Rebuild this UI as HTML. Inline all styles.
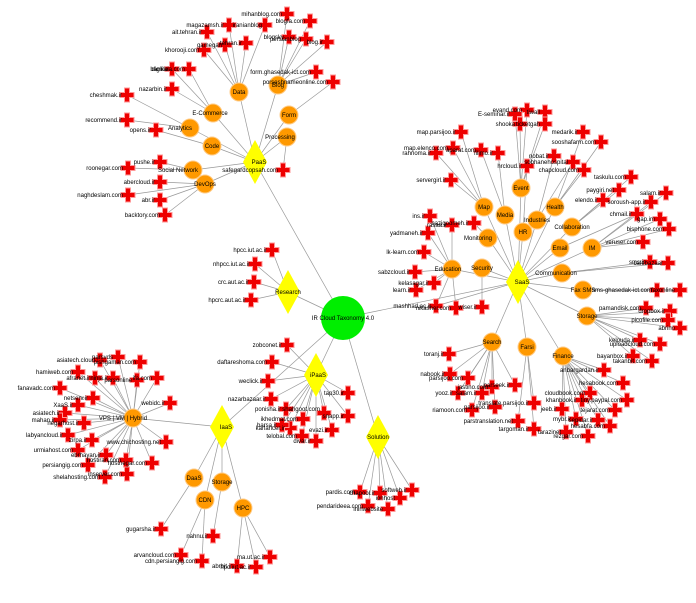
<!DOCTYPE html>
<html><head><meta charset="utf-8"><style>
html,body{margin:0;padding:0;background:#fff;width:696px;height:603px;overflow:hidden}
svg text{font-family:"Liberation Sans",sans-serif;font-size:6px;fill:#000}
.l line{stroke:#999;stroke-width:0.7}
.o{fill:#f90;stroke:#fc8;stroke-width:1}
.d{fill:#ff0}
</style></head><body>
<svg width="696" height="603" viewBox="0 0 696 603" xmlns="http://www.w3.org/2000/svg">
<defs>
<g id="c"><path d="M-2.5,-7h5v4.5h4.5v5h-4.5v4.5h-5v-4.5h-4.5v-5h4.5z" fill="#e00" stroke="#f99" stroke-width="1"/></g>
</defs>
<g class="l">
<!-- hub -->
<line x1="343" y1="318" x2="255" y2="162"/><line x1="343" y1="318" x2="518" y2="282"/><line x1="343" y1="318" x2="288" y2="292"/><line x1="343" y1="318" x2="316" y2="375"/><line x1="343" y1="318" x2="222" y2="427"/><line x1="343" y1="318" x2="378" y2="437"/>
<!-- PaaS -->
<line x1="255" y1="162" x2="239" y2="92"/><line x1="255" y1="162" x2="278" y2="85"/><line x1="255" y1="162" x2="289" y2="115"/><line x1="255" y1="162" x2="287" y2="137"/><line x1="255" y1="162" x2="213" y2="113"/><line x1="255" y1="162" x2="190" y2="128"/><line x1="255" y1="162" x2="212" y2="146"/><line x1="255" y1="162" x2="193" y2="170"/><line x1="255" y1="162" x2="205" y2="184"/>
<line x1="239" y1="92" x2="229" y2="25"/><line x1="239" y1="92" x2="265" y2="25"/><line x1="239" y1="92" x2="207" y2="32"/><line x1="239" y1="92" x2="246" y2="43"/><line x1="239" y1="92" x2="225" y2="45"/><line x1="239" y1="92" x2="204" y2="50"/>
<line x1="278" y1="85" x2="287" y2="14"/><line x1="278" y1="85" x2="310" y2="21"/><line x1="278" y1="85" x2="289" y2="37"/><line x1="278" y1="85" x2="306" y2="39"/><line x1="278" y1="85" x2="327" y2="42"/><line x1="278" y1="85" x2="316" y2="72"/><line x1="289" y1="115" x2="333" y2="82"/><line x1="287" y1="137" x2="283" y2="170"/>
<line x1="213" y1="113" x2="189" y2="69"/><line x1="213" y1="113" x2="172" y2="69"/><line x1="213" y1="113" x2="172" y2="89"/><line x1="190" y1="128" x2="127" y2="95"/><line x1="190" y1="128" x2="127" y2="120"/><line x1="212" y1="146" x2="156" y2="130"/>
<line x1="193" y1="170" x2="160" y2="162"/><line x1="193" y1="170" x2="128" y2="168"/><line x1="205" y1="184" x2="160" y2="182"/><line x1="205" y1="184" x2="160" y2="200"/><line x1="205" y1="184" x2="165" y2="215"/><line x1="205" y1="184" x2="128" y2="195"/>
<!-- Research -->
<line x1="288" y1="292" x2="272" y2="250"/><line x1="288" y1="292" x2="255" y2="264"/><line x1="288" y1="292" x2="254" y2="282"/><line x1="288" y1="292" x2="251" y2="300"/>
<!-- iPaaS -->
<line x1="316" y1="375" x2="287" y2="345"/><line x1="316" y1="375" x2="272" y2="362"/><line x1="316" y1="375" x2="268" y2="381"/><line x1="316" y1="375" x2="271" y2="399"/><line x1="316" y1="375" x2="286" y2="409"/><line x1="316" y1="375" x2="290" y2="428"/><line x1="316" y1="375" x2="324" y2="413"/><line x1="316" y1="375" x2="303" y2="419"/><line x1="316" y1="375" x2="282" y2="425"/><line x1="316" y1="375" x2="302" y2="436"/><line x1="316" y1="375" x2="316" y2="441"/><line x1="316" y1="375" x2="332" y2="430"/><line x1="316" y1="375" x2="348" y2="416"/><line x1="316" y1="375" x2="348" y2="393"/>
<!-- IaaS -->
<line x1="222" y1="427" x2="133" y2="418"/><line x1="222" y1="427" x2="194" y2="478"/><line x1="222" y1="427" x2="222" y2="482"/><line x1="222" y1="427" x2="205" y2="500"/><line x1="222" y1="427" x2="243" y2="508"/>
<line x1="133" y1="418" x2="100" y2="360"/><line x1="133" y1="418" x2="118" y2="357"/><line x1="133" y1="418" x2="140" y2="362"/><line x1="133" y1="418" x2="78" y2="372"/><line x1="133" y1="418" x2="95" y2="378"/><line x1="133" y1="418" x2="113" y2="378"/><line x1="133" y1="418" x2="137" y2="380"/><line x1="133" y1="418" x2="157" y2="378"/><line x1="133" y1="418" x2="60" y2="388"/><line x1="133" y1="418" x2="93" y2="398"/><line x1="133" y1="418" x2="78" y2="405"/><line x1="133" y1="418" x2="65" y2="413"/><line x1="133" y1="418" x2="170" y2="403"/><line x1="133" y1="418" x2="60" y2="420"/><line x1="133" y1="418" x2="84" y2="423"/><line x1="133" y1="418" x2="68" y2="435"/><line x1="133" y1="418" x2="92" y2="440"/><line x1="133" y1="418" x2="166" y2="442"/><line x1="133" y1="418" x2="78" y2="450"/><line x1="133" y1="418" x2="106" y2="455"/><line x1="133" y1="418" x2="88" y2="465"/><line x1="133" y1="418" x2="126" y2="460"/><line x1="133" y1="418" x2="127" y2="474"/><line x1="133" y1="418" x2="105" y2="477"/><line x1="133" y1="418" x2="152" y2="463"/>
<line x1="194" y1="478" x2="161" y2="529"/><line x1="222" y1="482" x2="213" y2="536"/><line x1="205" y1="500" x2="181" y2="555"/><line x1="205" y1="500" x2="202" y2="561"/><line x1="243" y1="508" x2="237" y2="566"/><line x1="243" y1="508" x2="256" y2="567"/><line x1="243" y1="508" x2="270" y2="557"/>
<!-- Solution -->
<line x1="378" y1="437" x2="360" y2="492"/><line x1="378" y1="437" x2="380" y2="493"/><line x1="378" y1="437" x2="400" y2="498"/><line x1="378" y1="437" x2="412" y2="490"/><line x1="378" y1="437" x2="368" y2="506"/><line x1="378" y1="437" x2="388" y2="509"/>
<!-- SaaS -->
<line x1="518" y1="282" x2="484" y2="207"/><line x1="518" y1="282" x2="505" y2="215"/><line x1="518" y1="282" x2="521" y2="188"/><line x1="518" y1="282" x2="555" y2="207"/><line x1="518" y1="282" x2="537" y2="220"/><line x1="518" y1="282" x2="523" y2="232"/><line x1="518" y1="282" x2="572" y2="227"/><line x1="518" y1="282" x2="488" y2="238"/><line x1="518" y1="282" x2="560" y2="248"/><line x1="518" y1="282" x2="592" y2="248"/><line x1="518" y1="282" x2="452" y2="269"/><line x1="518" y1="282" x2="482" y2="268"/><line x1="518" y1="282" x2="562" y2="273"/><line x1="518" y1="282" x2="583" y2="290"/><line x1="518" y1="282" x2="587" y2="316"/><line x1="518" y1="282" x2="492" y2="342"/><line x1="518" y1="282" x2="527" y2="347"/><line x1="518" y1="282" x2="563" y2="356"/><line x1="518" y1="282" x2="436" y2="306"/>
<line x1="484" y1="207" x2="461" y2="132"/><line x1="484" y1="207" x2="453" y2="148"/><line x1="484" y1="207" x2="436" y2="153"/><line x1="484" y1="207" x2="451" y2="180"/><line x1="505" y1="215" x2="481" y2="150"/><line x1="505" y1="215" x2="498" y2="153"/>
<line x1="521" y1="188" x2="527" y2="110"/><line x1="521" y1="188" x2="515" y2="114"/><line x1="521" y1="188" x2="545" y2="112"/><line x1="521" y1="188" x2="520" y2="124"/><line x1="521" y1="188" x2="545" y2="124"/><line x1="523" y1="232" x2="527" y2="166"/>
<line x1="537" y1="220" x2="554" y2="156"/><line x1="537" y1="220" x2="573" y2="162"/><line x1="555" y1="207" x2="584" y2="170"/><line x1="555" y1="207" x2="583" y2="132"/><line x1="555" y1="207" x2="601" y2="142"/>
<line x1="572" y1="227" x2="619" y2="190"/><line x1="572" y1="227" x2="631" y2="177"/><line x1="572" y1="227" x2="603" y2="200"/><line x1="560" y1="248" x2="637" y2="214"/>
<line x1="592" y1="248" x2="651" y2="202"/><line x1="592" y1="248" x2="660" y2="219"/><line x1="592" y1="248" x2="669" y2="229"/><line x1="592" y1="248" x2="643" y2="242"/><line x1="592" y1="248" x2="666" y2="193"/>
<line x1="562" y1="273" x2="668" y2="263"/><line x1="562" y1="273" x2="650" y2="262"/><line x1="583" y1="290" x2="680" y2="290"/><line x1="583" y1="290" x2="657" y2="290"/>
<line x1="587" y1="316" x2="646" y2="308"/><line x1="587" y1="316" x2="670" y2="311"/><line x1="587" y1="316" x2="668" y2="320"/><line x1="587" y1="316" x2="680" y2="328"/><line x1="587" y1="316" x2="640" y2="340"/><line x1="587" y1="316" x2="660" y2="344"/><line x1="587" y1="316" x2="633" y2="356"/><line x1="587" y1="316" x2="652" y2="361"/>
<line x1="452" y1="269" x2="430" y2="216"/><line x1="452" y1="269" x2="452" y2="225"/><line x1="452" y1="269" x2="428" y2="233"/><line x1="452" y1="269" x2="424" y2="252"/><line x1="452" y1="269" x2="415" y2="272"/><line x1="452" y1="269" x2="434" y2="283"/><line x1="452" y1="269" x2="416" y2="290"/><line x1="452" y1="269" x2="456" y2="308"/><line x1="452" y1="269" x2="436" y2="306"/>
<line x1="488" y1="238" x2="474" y2="223"/><line x1="482" y1="268" x2="482" y2="307"/>
<line x1="492" y1="342" x2="449" y2="354"/><line x1="492" y1="342" x2="450" y2="374"/><line x1="492" y1="342" x2="468" y2="378"/><line x1="492" y1="342" x2="458" y2="393"/><line x1="492" y1="342" x2="482" y2="393"/><line x1="492" y1="342" x2="492" y2="387"/><line x1="492" y1="342" x2="515" y2="385"/><line x1="492" y1="342" x2="472" y2="410"/><line x1="492" y1="342" x2="495" y2="407"/>
<line x1="527" y1="347" x2="534" y2="403"/><line x1="527" y1="347" x2="518" y2="421"/><line x1="527" y1="347" x2="534" y2="429"/>
<line x1="563" y1="356" x2="604" y2="370"/><line x1="563" y1="356" x2="623" y2="383"/><line x1="563" y1="356" x2="590" y2="393"/><line x1="563" y1="356" x2="627" y2="400"/><line x1="563" y1="356" x2="582" y2="400"/><line x1="563" y1="356" x2="615" y2="410"/><line x1="563" y1="356" x2="562" y2="409"/><line x1="563" y1="356" x2="576" y2="419"/><line x1="563" y1="356" x2="598" y2="420"/><line x1="563" y1="356" x2="610" y2="426"/><line x1="563" y1="356" x2="566" y2="432"/><line x1="563" y1="356" x2="588" y2="436"/>
</g>
<!-- crosses -->
<g>
<use href="#c" x="229" y="25"/><use href="#c" x="265" y="25"/><use href="#c" x="207" y="32"/><use href="#c" x="246" y="43"/><use href="#c" x="225" y="45"/><use href="#c" x="204" y="50"/>
<use href="#c" x="287" y="14"/><use href="#c" x="310" y="21"/><use href="#c" x="289" y="37"/><use href="#c" x="306" y="39"/><use href="#c" x="327" y="42"/><use href="#c" x="316" y="72"/><use href="#c" x="333" y="82"/><use href="#c" x="283" y="170"/>
<use href="#c" x="189" y="69"/><use href="#c" x="172" y="69"/><use href="#c" x="172" y="89"/><use href="#c" x="127" y="95"/><use href="#c" x="127" y="120"/><use href="#c" x="156" y="130"/>
<use href="#c" x="160" y="162"/><use href="#c" x="128" y="168"/><use href="#c" x="160" y="182"/><use href="#c" x="160" y="200"/><use href="#c" x="165" y="215"/><use href="#c" x="128" y="195"/>
<use href="#c" x="272" y="250"/><use href="#c" x="255" y="264"/><use href="#c" x="254" y="282"/><use href="#c" x="251" y="300"/>
<use href="#c" x="287" y="345"/><use href="#c" x="272" y="362"/><use href="#c" x="268" y="381"/><use href="#c" x="271" y="399"/><use href="#c" x="286" y="409"/><use href="#c" x="290" y="428"/><use href="#c" x="324" y="413"/><use href="#c" x="303" y="419"/><use href="#c" x="282" y="425"/><use href="#c" x="302" y="436"/><use href="#c" x="316" y="441"/><use href="#c" x="332" y="430"/><use href="#c" x="348" y="416"/><use href="#c" x="348" y="393"/>
<use href="#c" x="100" y="360"/><use href="#c" x="118" y="357"/><use href="#c" x="140" y="362"/><use href="#c" x="78" y="372"/><use href="#c" x="95" y="378"/><use href="#c" x="113" y="378"/><use href="#c" x="137" y="380"/><use href="#c" x="157" y="378"/><use href="#c" x="60" y="388"/><use href="#c" x="93" y="398"/><use href="#c" x="78" y="405"/><use href="#c" x="65" y="413"/><use href="#c" x="170" y="403"/><use href="#c" x="60" y="420"/><use href="#c" x="84" y="423"/><use href="#c" x="68" y="435"/><use href="#c" x="92" y="440"/><use href="#c" x="166" y="442"/><use href="#c" x="78" y="450"/><use href="#c" x="106" y="455"/><use href="#c" x="88" y="465"/><use href="#c" x="126" y="460"/><use href="#c" x="127" y="474"/><use href="#c" x="105" y="477"/><use href="#c" x="152" y="463"/>
<use href="#c" x="161" y="529"/><use href="#c" x="213" y="536"/><use href="#c" x="181" y="555"/><use href="#c" x="202" y="561"/><use href="#c" x="237" y="566"/><use href="#c" x="256" y="567"/><use href="#c" x="270" y="557"/>
<use href="#c" x="360" y="492"/><use href="#c" x="380" y="493"/><use href="#c" x="400" y="498"/><use href="#c" x="412" y="490"/><use href="#c" x="368" y="506"/><use href="#c" x="388" y="509"/>
<use href="#c" x="461" y="132"/><use href="#c" x="453" y="148"/><use href="#c" x="436" y="153"/><use href="#c" x="451" y="180"/><use href="#c" x="481" y="150"/><use href="#c" x="498" y="153"/>
<use href="#c" x="527" y="110"/><use href="#c" x="515" y="114"/><use href="#c" x="545" y="112"/><use href="#c" x="520" y="124"/><use href="#c" x="545" y="124"/><use href="#c" x="527" y="166"/>
<use href="#c" x="554" y="156"/><use href="#c" x="573" y="162"/><use href="#c" x="584" y="170"/><use href="#c" x="583" y="132"/><use href="#c" x="601" y="142"/>
<use href="#c" x="619" y="190"/><use href="#c" x="631" y="177"/><use href="#c" x="603" y="200"/><use href="#c" x="637" y="214"/>
<use href="#c" x="651" y="202"/><use href="#c" x="660" y="219"/><use href="#c" x="669" y="229"/><use href="#c" x="643" y="242"/><use href="#c" x="666" y="193"/>
<use href="#c" x="668" y="263"/><use href="#c" x="650" y="262"/><use href="#c" x="680" y="290"/><use href="#c" x="657" y="290"/>
<use href="#c" x="646" y="308"/><use href="#c" x="670" y="311"/><use href="#c" x="668" y="320"/><use href="#c" x="680" y="328"/><use href="#c" x="640" y="340"/><use href="#c" x="660" y="344"/><use href="#c" x="633" y="356"/><use href="#c" x="652" y="361"/>
<use href="#c" x="430" y="216"/><use href="#c" x="452" y="225"/><use href="#c" x="428" y="233"/><use href="#c" x="424" y="252"/><use href="#c" x="415" y="272"/><use href="#c" x="434" y="283"/><use href="#c" x="416" y="290"/><use href="#c" x="456" y="308"/><use href="#c" x="436" y="306"/><use href="#c" x="474" y="223"/><use href="#c" x="482" y="307"/>
<use href="#c" x="449" y="354"/><use href="#c" x="450" y="374"/><use href="#c" x="468" y="378"/><use href="#c" x="458" y="393"/><use href="#c" x="482" y="393"/><use href="#c" x="492" y="387"/><use href="#c" x="515" y="385"/><use href="#c" x="472" y="410"/><use href="#c" x="495" y="407"/>
<use href="#c" x="534" y="403"/><use href="#c" x="518" y="421"/><use href="#c" x="534" y="429"/>
<use href="#c" x="604" y="370"/><use href="#c" x="623" y="383"/><use href="#c" x="590" y="393"/><use href="#c" x="627" y="400"/><use href="#c" x="582" y="400"/><use href="#c" x="615" y="410"/><use href="#c" x="562" y="409"/><use href="#c" x="576" y="419"/><use href="#c" x="598" y="420"/><use href="#c" x="610" y="426"/><use href="#c" x="566" y="432"/><use href="#c" x="588" y="436"/>
</g>
<!-- main nodes -->
<circle cx="343" cy="318" r="22" fill="#0e0"/>
<polygon class="d" points="255,140 267,162 255,184 243,162"/>
<polygon class="d" points="518,260 530,282 518,304 506,282"/>
<polygon class="d" points="288,270 300,292 288,314 276,292"/>
<polygon class="d" points="316,353 328,375 316,397 304,375"/>
<polygon class="d" points="222,405 234,427 222,449 210,427"/>
<polygon class="d" points="378,415 390,437 378,459 366,437"/>
<g class="o">
<circle cx="239" cy="92" r="9"/><circle cx="278" cy="85" r="9"/><circle cx="289" cy="115" r="9"/><circle cx="287" cy="137" r="9"/><circle cx="213" cy="113" r="9"/><circle cx="190" cy="128" r="9"/><circle cx="212" cy="146" r="9"/><circle cx="193" cy="170" r="9"/><circle cx="205" cy="184" r="9"/>
<circle cx="133" cy="418" r="9"/><circle cx="194" cy="478" r="9"/><circle cx="222" cy="482" r="9"/><circle cx="205" cy="500" r="9"/><circle cx="243" cy="508" r="9"/>
<circle cx="484" cy="207" r="9"/><circle cx="505" cy="215" r="9"/><circle cx="521" cy="188" r="9"/><circle cx="555" cy="207" r="9"/><circle cx="537" cy="220" r="9"/><circle cx="523" cy="232" r="9"/><circle cx="572" cy="227" r="9"/><circle cx="488" cy="238" r="9"/><circle cx="560" cy="248" r="9"/><circle cx="592" cy="248" r="9"/><circle cx="452" cy="269" r="9"/><circle cx="482" cy="268" r="9"/><circle cx="562" cy="273" r="9"/><circle cx="583" cy="290" r="9"/><circle cx="587" cy="316" r="9"/><circle cx="492" cy="342" r="9"/><circle cx="527" cy="347" r="9"/><circle cx="563" cy="356" r="9"/>
</g>
<!-- labels -->
<g text-anchor="middle">
<text x="343" y="320">IR Cloud Taxonomy 4.0</text>
<text x="259" y="164">PaaS</text><text x="522" y="284">SaaS</text><text x="288" y="294">Research</text><text x="318" y="377">iPaaS</text><text x="226" y="429">IaaS</text><text x="378" y="439">Solution</text>
<text x="239" y="94">Data</text><text x="278" y="87">Blog</text><text x="289" y="117">Form</text><text x="280" y="139">Processing</text><text x="210" y="115">E-Commerce</text><text x="180" y="130">Analytics</text><text x="212" y="148">Code</text><text x="178" y="172">Social Network</text><text x="205" y="186">DevOps</text>
<text x="123" y="420">VPS | VM | Hybrid</text><text x="194" y="480">DaaS</text><text x="222" y="484">Storage</text><text x="205" y="502">CDN</text><text x="243" y="510">HPC</text>
<text x="484" y="209">Map</text><text x="505" y="217">Media</text><text x="521" y="190">Event</text><text x="555" y="209">Health</text><text x="537" y="222">Industries</text><text x="523" y="234">HR</text><text x="572" y="229">Collaboration</text><text x="478" y="240">Monitoring</text><text x="560" y="250">Email</text><text x="592" y="250">IM</text><text x="448" y="271">Education</text><text x="482" y="270">Security</text><text x="556" y="275">Communication</text><text x="583" y="292">Fax SMS</text><text x="587" y="318">Storage</text><text x="492" y="344">Search</text><text x="527" y="349">Farsi</text><text x="563" y="358">Finance</text>
</g>
<g text-anchor="end">
<text x="224" y="27">magazamsh.ir</text><text x="262" y="27">iranianblog</text><text x="202" y="34">ait.tehran.ir</text><text x="242" y="45">tehran.ir</text><text x="222" y="47">gamegah</text><text x="199" y="52">khorooji.com</text>
<text x="282" y="16">mihanblog.com</text><text x="305" y="23">blogfa.com</text><text x="284" y="39">blogsky</text><text x="301" y="41">persianblog</text><text x="323" y="44">blog.ir</text><text x="311" y="74">form.ghasedak-ict.com</text><text x="328" y="84">porseshnameonline.com</text><text x="278" y="172">safegardcopsah.com</text>
<text x="185" y="71">digikala.com</text><text x="168" y="71">bamilo</text><text x="167" y="91">nazarbin.ir</text><text x="122" y="97">cheshmak.ir</text><text x="122" y="122">recommend.ir</text><text x="151" y="132">opens.ir</text>
<text x="155" y="164">pushe.ir</text><text x="123" y="170">roonegar.com</text><text x="155" y="184">abercloud.ir</text><text x="155" y="202">abr.ir</text><text x="160" y="217">backtory.com</text><text x="123" y="197">naghdeslam.com</text>
<text x="267" y="252">hpcc.iut.ac.ir</text><text x="250" y="266">nhpcc.iut.ac.ir</text><text x="249" y="284">crc.aut.ac.ir</text><text x="246" y="302">hpcrc.aut.ac.ir</text>
<text x="282" y="347">zobconet.ir</text><text x="267" y="364">daftareshoma.com</text><text x="263" y="383">weclick.ir</text><text x="266" y="401">nazarbazaar.ir</text><text x="281" y="411">ponisha.ir</text><text x="285" y="430">karlancer.ir</text><text x="320" y="411">shahgoot.com</text><text x="298" y="421">ikhedmat.com</text><text x="277" y="427">barsa.ir</text><text x="297" y="438">telobal.com</text><text x="311" y="443">divar.ir</text><text x="328" y="432">evazi.ir</text><text x="344" y="418">snapp.ir</text><text x="344" y="395">tap30.ir</text>
<text x="95" y="362">asiatech.cloud</text><text x="113" y="359">parsvds</text><text x="136" y="364">pishgaman.com</text><text x="73" y="374">hamiweb.com</text><text x="90" y="380">afranet.ir</text><text x="108" y="380">ninja.ir</text><text x="132" y="382">parsonline</text><text x="152" y="380">ifa.com</text><text x="55" y="390">fanavadc.com</text><text x="88" y="400">netserv.ir</text><text x="73" y="407">XaaS.ir</text><text x="60" y="415">asiatech.ir</text><text x="165" y="405">webidc.ir</text><text x="55" y="422">mahan.ir</text><text x="79" y="425">negarhost.ir</text><text x="63" y="437">labyancloud.ir</text><text x="87" y="442">zirpa.ir</text><text x="161" y="444">www.chichosting.net</text><text x="73" y="452">urmiahost.com</text><text x="101" y="457">ebrhayan.ir</text><text x="83" y="467">persiangig.com</text><text x="121" y="462">hostiran.com</text><text x="122" y="476">inserver.com</text><text x="100" y="479">shelahosting.com</text><text x="147" y="465">hostnegar.com</text>
<text x="156" y="531">gugarsha.ir</text><text x="208" y="538">nahnu.ir</text><text x="176" y="557">arvancloud.com</text><text x="197" y="563">cdn.persiangig.com</text><text x="232" y="568">abrbit.ir</text><text x="251" y="569">hpc.iut.ac.ir</text><text x="265" y="559">ma.ut.ac.ir</text>
<text x="355" y="494">pardis.com</text><text x="375" y="495">chapool.ir</text><text x="395" y="500">ionhost</text><text x="407" y="492">softweb.ir</text><text x="363" y="508">pendarideea.com</text><text x="383" y="511">ininwebsite</text>
<text x="456" y="134">map.parsijoo.ir</text><text x="448" y="150">map.elenco.com</text><text x="431" y="155">rahnoma.ir</text><text x="446" y="182">servergirl.ir</text><text x="476" y="152">aparat.com</text><text x="493" y="155">filimo.ir</text>
<text x="522" y="112">evand.com</text><text x="510" y="116">E-seminar.ir</text><text x="540" y="114">tiwall</text><text x="515" y="126">shooka</text><text x="540" y="126">ticketgah</text><text x="522" y="168">hrcloud.ir</text>
<text x="549" y="158">nobat.ir</text><text x="568" y="164">sobhanehospital</text><text x="579" y="172">chapcloud.com</text><text x="578" y="134">medarik.ir</text><text x="596" y="144">sooshafarm.com</text>
<text x="614" y="192">paygiri.net</text><text x="626" y="179">taskulu.com</text><text x="598" y="202">elendo.ir</text><text x="632" y="216">chmail.ir</text><text x="646" y="204">soroush-app.ir</text><text x="655" y="221">gap.im</text><text x="664" y="231">bisphone.com</text><text x="638" y="244">veruser.com</text><text x="661" y="195">salam.ir</text>
<text x="663" y="265">cafebazaar</text><text x="645" y="264">sms.ir</text><text x="675" y="292">faxonline</text><text x="652" y="292">sms-ghasedak-ict.com</text>
<text x="641" y="310">pamandisk.com</text><text x="665" y="313">dropbox.ir</text><text x="663" y="322">picofile.com</text><text x="675" y="330">abrino</text><text x="635" y="342">kelouda.ir</text><text x="655" y="346">uploadcloud.com</text><text x="628" y="358">bayanbox.ir</text><text x="647" y="363">takanbit.com</text>
<text x="425" y="218">ins.ir</text><text x="447" y="227">rasaa.ir</text><text x="423" y="235">yadmaneh.ir</text><text x="419" y="254">lk-learn.com</text><text x="410" y="274">sabzcloud.ir</text><text x="429" y="285">kelasagar.ir</text><text x="411" y="292">learn.ir</text><text x="451" y="310">nikasher.com</text><text x="431" y="308">mashhad.ac.ir</text><text x="469" y="225">nazigoomeh.ir</text><text x="477" y="309">wiser.ir</text>
<text x="444" y="356">toranj.ir</text><text x="445" y="376">nabook.ir</text><text x="463" y="380">parsijoo.com</text><text x="453" y="395">yooz.ir</text><text x="477" y="395">salam.ir</text><text x="488" y="389">jastino.com</text><text x="510" y="387">parseek.ir</text><text x="467" y="412">riamoon.com</text><text x="490" y="409">parsijoo.ir</text>
<text x="529" y="405">translate.parsijoo.ir</text><text x="513" y="423">parstranslation.net</text><text x="529" y="431">targoman.ir</text>
<text x="599" y="372">anbargardan.ir</text><text x="618" y="385">hesabook.com</text><text x="585" y="395">cloudbook.com</text><text x="622" y="402">tiny.paypal.com</text><text x="577" y="402">khanbook.ir</text><text x="610" y="412">tejarat.com</text><text x="557" y="411">jeeb.ir</text><text x="571" y="421">mybr.ir</text><text x="593" y="422">sepidar.ir</text><text x="605" y="428">hesabfa.com</text><text x="561" y="434">tarazinet</text><text x="583" y="438">rezgar.com</text>
</g>
</svg>
</body></html>
